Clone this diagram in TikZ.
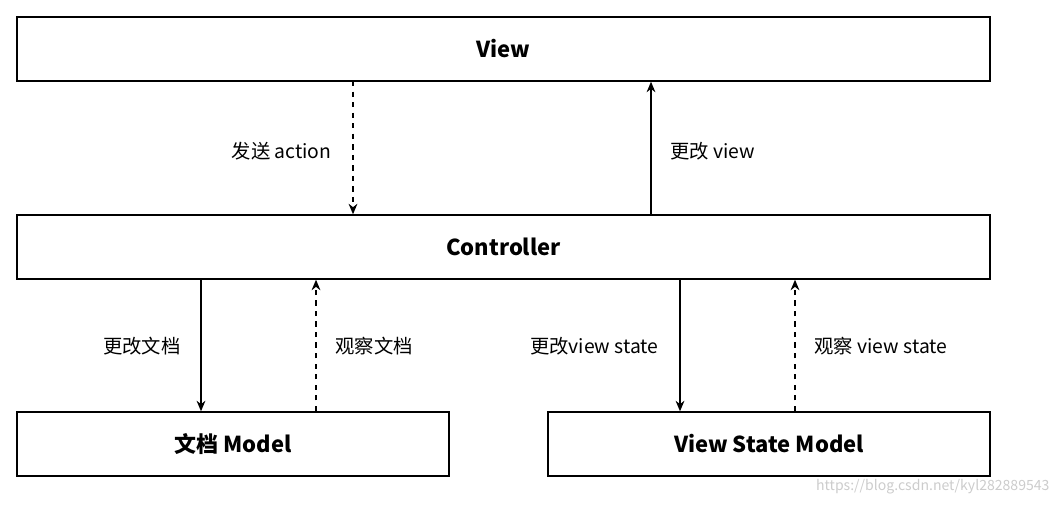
\documentclass[tikz,border=0pt]{standalone}
\usepackage{fontspec}
\setmainfont{Noto Sans CJK SC}
\usetikzlibrary{arrows.meta}
\begin{document}
\begin{tikzpicture}[x=0.02cm,y=-0.02cm,>={Stealth[length=6pt,width=5pt]},thick,
    box/.style={draw,thick,minimum height=64*0.02cm,font=\fontsize{12.5}{14}\selectfont\bfseries},
    lbl/.style={font=\fontsize{11}{13}\selectfont},
    obs/.style={->,dashed}, chg/.style={->}]
  \useasboundingbox (0,0) rectangle (1060,504);
  \node[box,minimum width=973*0.02cm] (view) at (503.5,49) {View};
  \node[box,minimum width=973*0.02cm] (ctrl) at (503.5,247) {Controller};
  \node[box,minimum width=432*0.02cm] (doc) at (233,444) {文档 Model};
  \node[box,minimum width=442*0.02cm] (vsm) at (769,444) {View State Model};

  \coordinate (send) at (353,81);
  \coordinate (upd) at (651,215);
  \coordinate (chdoc) at (201,279);
  \coordinate (obdoc) at (316,411);
  \coordinate (chvs) at (680,279);
  \coordinate (obvs) at (795,411);

  \draw[obs] (send) -- (send |- ctrl.north);
  \draw[chg] (upd) -- (upd |- view.south);
  \draw[chg] (chdoc) -- (chdoc |- doc.north);
  \draw[obs] (obdoc) -- (obdoc |- ctrl.south);
  \draw[chg] (chvs) -- (chvs |- vsm.north);
  \draw[obs] (obvs) -- (obvs |- ctrl.south);

  \node[lbl,anchor=east] (l1) at (338,151) {发送 action};
  \node[lbl,anchor=west] (l2) at (664,151) {更改 view};
  \node[lbl,anchor=east] (l3) at (187,346) {更改文档};
  \node[lbl,anchor=west] (l4) at (329,346) {观察文档};
  \node[lbl,anchor=east] (l5) at (665,346) {更改view state};
  \node[lbl,anchor=west] (l6) at (808,346) {观察 view state};
  \node[font=\fontsize{8}{9}\selectfont,text=gray!40,anchor=east] (wm) at (1056,487) {https://blog.csdn.net/kyl282889543};
\end{tikzpicture}
\end{document}
